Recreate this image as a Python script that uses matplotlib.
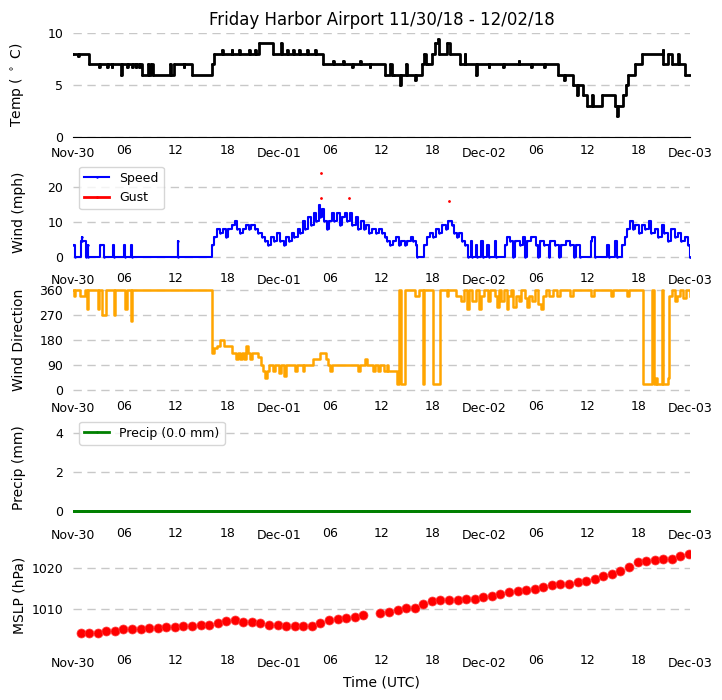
import numpy as np
import matplotlib
matplotlib.use("Agg")
import matplotlib.pyplot as plt
import matplotlib.dates as mdates
from datetime import datetime, timedelta

START = datetime(2018, 11, 30)

# ---- data (hour offset from Nov-30 00 UTC, value) ----
temp_hours = [0, 0.6, 0.7, 1.9, 3.0, 3.1, 4.0, 4.1, 4.5, 4.6, 5.6, 5.7, 6.3, 6.4, 6.9, 7.0, 7.3, 7.4, 7.7, 7.8,
              8.0, 8.8, 8.9, 9.1, 9.3, 11.3, 11.4, 11.8, 12.9, 13.0, 13.9, 16.2, 16.5, 17.4, 17.5, 18.5, 18.6,
              19.4, 19.5, 20.5, 20.6, 21.2, 21.3, 21.7, 23.3, 24.3, 24.4, 25.0, 25.1, 25.7, 25.8, 26.4, 26.5,
              27.3, 27.4, 28.2, 28.3, 29.2, 30.3, 30.4, 31.5, 31.6, 32.6, 32.7, 33.5, 33.6, 34.6, 34.7,
              36.4, 37.0, 37.2, 37.5, 38.2, 38.3, 38.9, 39.0, 39.9, 40.0, 40.7, 41.0, 41.2, 41.4, 41.9,
              42.3, 42.6, 42.7, 43.6, 44.0, 45.2, 45.7, 45.8, 47.0, 47.1, 48.5, 48.6, 50.2, 50.3, 52.0,
              52.1, 53.5, 53.6, 55.0, 55.1, 56.6, 57.3, 57.4, 58.3, 58.8, 58.9, 59.5, 60.0, 60.6, 60.7,
              61.7, 63.2, 63.5, 63.6, 64.2, 64.5, 64.8, 65.6, 66.4, 68.8, 68.9, 69.4, 69.9, 70.6, 70.7,
              71.4, 72.0]
temp_vals = [8, 7.8, 8, 7, 6.7, 7, 6.7, 7, 6.7, 7, 6, 7, 6.7, 7, 6.7, 7, 6.7, 7, 6.7, 7,
             6, 7, 6, 7, 6, 7, 6, 7, 6.7, 7, 6, 7, 8, 8.4, 8, 8.4, 8,
             8.4, 8, 8.4, 8, 8.4, 8, 9, 8, 9, 8, 8.4, 8, 8.4, 8, 8.4, 8,
             8.4, 8, 8.4, 8, 7, 7.3, 7, 7.3, 7, 6.7, 7, 7.3, 7, 6.7, 7,
             6, 7, 6, 6, 5, 6, 7, 6, 5.5, 6, 7, 8, 7, 7, 8,
             9, 9.4, 8, 9, 8, 7, 8, 7, 6, 7, 6.7, 7, 6.7, 7, 7.3,
             7, 6.7, 7, 6.7, 7, 6, 5.5, 6, 5, 4, 5, 4, 3, 4, 3,
             4, 3, 2, 3, 4, 5, 6, 7, 8, 8.4, 7, 8, 7, 8, 7,
             6, 6]

speed_hours = [0, 0.2, 0.9, 1.0, 1.1, 1.5, 1.7, 1.8, 3.1, 3.6, 4.7, 4.8, 6.0, 6.1, 6.8, 6.9, 12.2, 12.3,
               16.2, 16.5, 16.8, 17.2, 17.5, 17.8, 18.1, 18.5, 18.9, 19.1, 19.5, 19.8, 20.2, 20.5, 20.8,
               21.2, 21.6, 22.0, 22.4, 22.8, 23.1, 23.4, 23.8, 24.2, 24.6, 24.9, 25.2, 25.5, 25.8, 26.2,
               26.5, 26.8, 27.1, 27.4, 27.8, 28.1, 28.4, 28.7, 28.8, 29.0, 29.3, 29.6, 29.9, 30.2, 30.5,
               30.8, 31.1, 31.4, 31.7, 32.0, 32.3, 32.6, 33.0, 33.3, 33.6, 33.9, 34.2, 34.5, 34.9, 35.3,
               35.7, 36.1, 36.4, 36.7, 37.0, 37.3, 37.7, 38.0, 38.3, 38.7, 39.0, 39.4, 39.7, 40.0, 40.2,
               41.0, 41.3, 41.7, 42.0, 42.4, 42.7, 43.1, 43.5, 43.8, 44.2, 44.5, 44.8, 45.1, 45.4, 45.8,
               46.1, 46.4, 46.6, 47.0, 47.2, 47.6, 47.8, 48.3, 48.5, 49.2, 49.4, 50.4, 50.6, 51.0, 51.4,
               51.6, 52.2, 52.5, 52.8, 53.0, 53.5, 54.0, 54.3, 54.5, 55.0, 55.5, 55.7, 56.2, 56.7, 56.9,
               57.5, 58.0, 58.5, 58.7, 59.2, 60.4, 60.6, 60.9, 62.3, 62.5, 63.3, 63.5, 64.1, 64.4, 64.7,
               65.0, 65.3, 65.6, 66.0, 66.4, 66.8, 67.2, 67.5, 67.9, 68.3, 68.7, 69.0, 69.4, 69.8, 70.2,
               70.6, 71.0, 71.4, 71.8, 71.95, 72.0]
speed_vals = [3.5, 0, 4.6, 5.8, 4.6, 0, 3.5, 0, 3.5, 0, 3.5, 0, 3.5, 0, 3.5, 0, 4.6, 0,
              3.5, 5.8, 8.1, 6.9, 8.1, 5.8, 8.1, 9.2, 10.4, 8.1, 6.9, 8.1, 9.2, 8.1, 9.2,
              8.1, 6.9, 5.8, 4.6, 3.5, 5.8, 4.6, 6.9, 4.6, 3.5, 5.8, 4.6, 6.9, 5.8, 8.1,
              6.9, 10.4, 8.1, 11.5, 9.2, 12.7, 10.4, 15.0, 11.5, 13.8, 10.4, 8.1, 10.4, 12.7, 10.4,
              12.7, 9.2, 11.5, 12.7, 10.4, 12.7, 9.2, 11.5, 8.1, 10.4, 8.1, 9.2, 6.9, 8.1, 6.9,
              8.1, 6.9, 5.8, 4.6, 3.5, 4.6, 5.8, 3.5, 4.6, 3.5, 4.6, 5.8, 4.6, 3.5, 0,
              3.5, 5.8, 6.9, 5.8, 8.1, 6.9, 9.2, 8.1, 10.4, 9.2, 6.9, 5.8, 6.9, 4.6, 3.5,
              0, 4.6, 0, 3.5, 0, 4.6, 0, 3.5, 0, 4.6, 0, 3.5, 5.8, 4.6, 0,
              4.6, 3.5, 5.8, 0, 4.6, 5.8, 3.5, 0, 4.6, 3.5, 0, 4.6, 3.5, 0, 3.5,
              4.6, 3.5, 0, 3.5, 0, 4.6, 5.8, 0, 3.5, 0, 4.6, 0, 3.5, 5.8, 8.1,
              10.4, 8.1, 9.2, 6.9, 9.2, 8.1, 10.4, 6.9, 8.1, 5.8, 9.2, 6.9, 4.6, 8.1, 5.8,
              6.9, 4.6, 5.8, 3.5, 0, 0]

gust_hours = [28.9, 28.95, 32.2, 43.9]
gust_vals = [24, 17, 17, 16]

dir_hours = [0, 0.1, 0.2, 0.8, 1.4, 1.6, 1.7, 2.9, 3.0, 3.4, 3.85, 4.8, 4.9, 6.1, 6.3, 6.8, 6.9,
             16.2, 16.5, 16.8, 17.2, 17.6, 18.6, 19.0, 19.2, 19.5, 19.7, 20.0, 20.2, 20.4, 20.7, 20.9,
             21.6, 21.9, 22.2, 22.4, 22.6, 22.9, 23.3, 23.6, 24.0, 24.3, 24.6, 24.8, 25.9, 26.1, 26.8,
             27.0, 28.0, 28.8, 29.5, 29.8, 30.0, 30.2, 33.3, 33.5, 34.1, 34.3, 35.0, 35.2, 35.6, 35.8,
             36.3, 36.6, 36.8, 37.8, 38.0, 38.3, 38.8, 39.9, 40.4, 40.9, 41.0, 42.0, 42.8, 43.7, 43.8,
             44.7, 45.3, 45.6, 46.0, 46.2, 46.6, 47.0, 47.4, 47.6, 48.0, 48.4, 48.7, 49.2, 49.5, 49.7,
             50.0, 50.3, 50.6, 50.8, 51.1, 51.4, 51.7, 52.0, 52.3, 52.7, 53.0, 53.2, 53.6, 53.9, 54.3,
             54.6, 54.9, 55.2, 55.6, 56.0, 56.5, 56.8, 58.0, 58.3, 60.5, 60.8, 62.8, 63.0, 64.7, 64.9,
             66.5, 67.6, 67.8, 68.0, 68.2, 68.7, 68.9, 69.4, 69.6, 69.9, 70.3, 70.5, 70.8, 71.2, 71.5,
             72.0]
dir_vals = [360, 340, 360, 340, 360, 290, 360, 290, 360, 270, 360, 270, 360, 290, 360, 250, 360,
            135, 150, 160, 180, 160, 135, 110, 135, 110, 135, 110, 160, 135, 110, 135,
            120, 90, 70, 45, 70, 90, 70, 90, 60, 90, 50, 90, 70, 90, 70,
            90, 110, 135, 110, 90, 70, 90, 70, 90, 110, 90, 70, 90, 70, 90,
            70, 90, 70, 20, 360, 20, 360, 340, 360, 20, 360, 20, 360, 340, 360,
            340, 320, 360, 290, 360, 320, 360, 290, 340, 360, 320, 360, 340, 300, 360,
            320, 360, 290, 340, 360, 300, 340, 320, 360, 330, 300, 340, 320, 360, 310,
            290, 340, 360, 340, 360, 340, 360, 340, 360, 340, 360, 340, 360, 340, 360,
            20, 360, 20, 45, 20, 360, 20, 45, 340, 360, 320, 340, 360, 330, 360,
            340]

precip_hours = list(np.arange(0, 72.01, 1 / 12))
precip_vals = [0.0] * len(precip_hours)
precip_total = 0.0

mslp_hours = [h - 0.12 for h in list(range(1, 35)) + list(range(36, 73))]
mslp_vals = [1004.4, 1004.4, 1004.4, 1004.7, 1004.9, 1005.2, 1005.2, 1005.3, 1005.4, 1005.6,
             1005.8, 1005.7, 1005.9, 1005.9, 1006.3, 1006.3, 1006.6, 1007.1, 1007.4, 1007.0,
             1007.0, 1006.6, 1006.3, 1006.2, 1006.1, 1005.9, 1005.9, 1006.1, 1006.7, 1007.4,
             1007.6, 1007.8, 1008.1, 1008.6,
             1009.2, 1009.4, 1009.9, 1010.2, 1010.3, 1011.2, 1011.9, 1012.2, 1012.2, 1012.3,
             1012.4, 1012.5, 1013.0, 1013.3, 1013.8, 1014.1, 1014.3, 1014.6, 1015.0, 1015.4,
             1015.9, 1016.2, 1016.2, 1016.6, 1016.9, 1017.3, 1018.0, 1018.6, 1019.2, 1020.2,
             1021.3, 1021.5, 1021.8, 1022.0, 1022.2, 1022.8, 1023.3]

title = "Friday Harbor Airport 11/30/18 - 12/02/18"


def to_dt(hours):
    return [START + timedelta(hours=float(h)) for h in hours]


W, H = 722, 700
fig = plt.figure(figsize=(W / 100, H / 100), dpi=100)
left, width = 73 / W, 617 / W
tops = [33, 160.5, 288, 415.5, 543]
ah = 104
axes = [fig.add_axes([left, 1 - (t + ah) / H, width, ah / H]) for t in tops]

grid_kw = dict(color="#c8c8c8", linestyle=(0, (6, 4)), linewidth=1)
TICK_FS = 9
LAB_FS = 10

for ax in axes:
    ax.set_xlim(START, START + timedelta(hours=72))
    ax.xaxis.set_major_locator(mdates.DayLocator())
    ax.xaxis.set_major_formatter(mdates.DateFormatter("%b-%d"))
    ax.xaxis.set_minor_locator(mdates.HourLocator(byhour=[6, 12, 18]))
    ax.xaxis.set_minor_formatter(mdates.DateFormatter("%H"))
    ax.tick_params(which="both", color=(0, 0, 0, 0), labelsize=TICK_FS)
    for s in ax.spines.values():
        s.set_visible(False)
    ax.yaxis.grid(True, **grid_kw)
    ax.set_axisbelow(True)

# Temperature
ax = axes[0]
ax.plot(to_dt(temp_hours), temp_vals, color="black", lw=2, drawstyle="steps-post",
        marker=".", markersize=2)
ax.set_ylim(0, 10)
ax.set_yticks([0, 5, 10])
ax.spines["bottom"].set_visible(True)
ax.spines["bottom"].set_color("black")
ax.set_ylabel("Temp ( $^\\circ$ C)", fontsize=LAB_FS)
ax.set_title(title, fontsize=12)

# Wind speed / gust
ax = axes[1]
ax.plot(to_dt(speed_hours), speed_vals, color="blue", lw=1.5, drawstyle="steps-post",
        marker=".", markersize=1.5, label="Speed")
gx, gy = [], []
for h, v in zip(gust_hours, gust_vals):
    gx += [START + timedelta(hours=h), START + timedelta(hours=h)]
    gy += [v, np.nan]
ax.plot(gx, gy, color="red", lw=2, marker=".", markersize=2, label="Gust")
ax.set_ylim(-2.06, 27.66)
ax.set_yticks([0, 10, 20])
ax.set_ylabel("Wind (mph)", fontsize=LAB_FS)
ax.legend(loc="upper left", fontsize=TICK_FS)

# Wind direction
ax = axes[2]
ax.plot(to_dt(dir_hours), dir_vals, color="orange", lw=1.8, drawstyle="steps-post")
ax.set_ylim(-7.2, 367.2)
ax.set_yticks([0, 90, 180, 270, 360])
ax.set_ylabel("Wind Direction", fontsize=LAB_FS)

# Precip
ax = axes[3]
ax.plot(to_dt(precip_hours), precip_vals, color="green", lw=2, marker=".", markersize=1.5,
        label=f"Precip ({precip_total:.1f} mm)")
ax.set_ylim(-0.44, 4.91)
ax.set_yticks([0, 2, 4])
ax.set_ylabel("Precip (mm)", fontsize=LAB_FS)
ax.legend(loc="upper left", fontsize=TICK_FS)

# MSLP
ax = axes[4]
ax.plot(to_dt(mslp_hours), mslp_vals, color="red", linestyle="none", marker="o", markersize=6.5,
        markeredgecolor="#ff4040", markeredgewidth=0.5)
ax.set_ylim(1000.94, 1025.94)
ax.set_yticks([1010, 1020])
ax.set_ylabel("MSLP (hPa)", fontsize=LAB_FS)
ax.set_xlabel("Time (UTC)", fontsize=LAB_FS)

for ax in axes:
    ax.yaxis.set_label_coords(-0.076, 0.5)

fig.savefig("out.png", dpi=100)
